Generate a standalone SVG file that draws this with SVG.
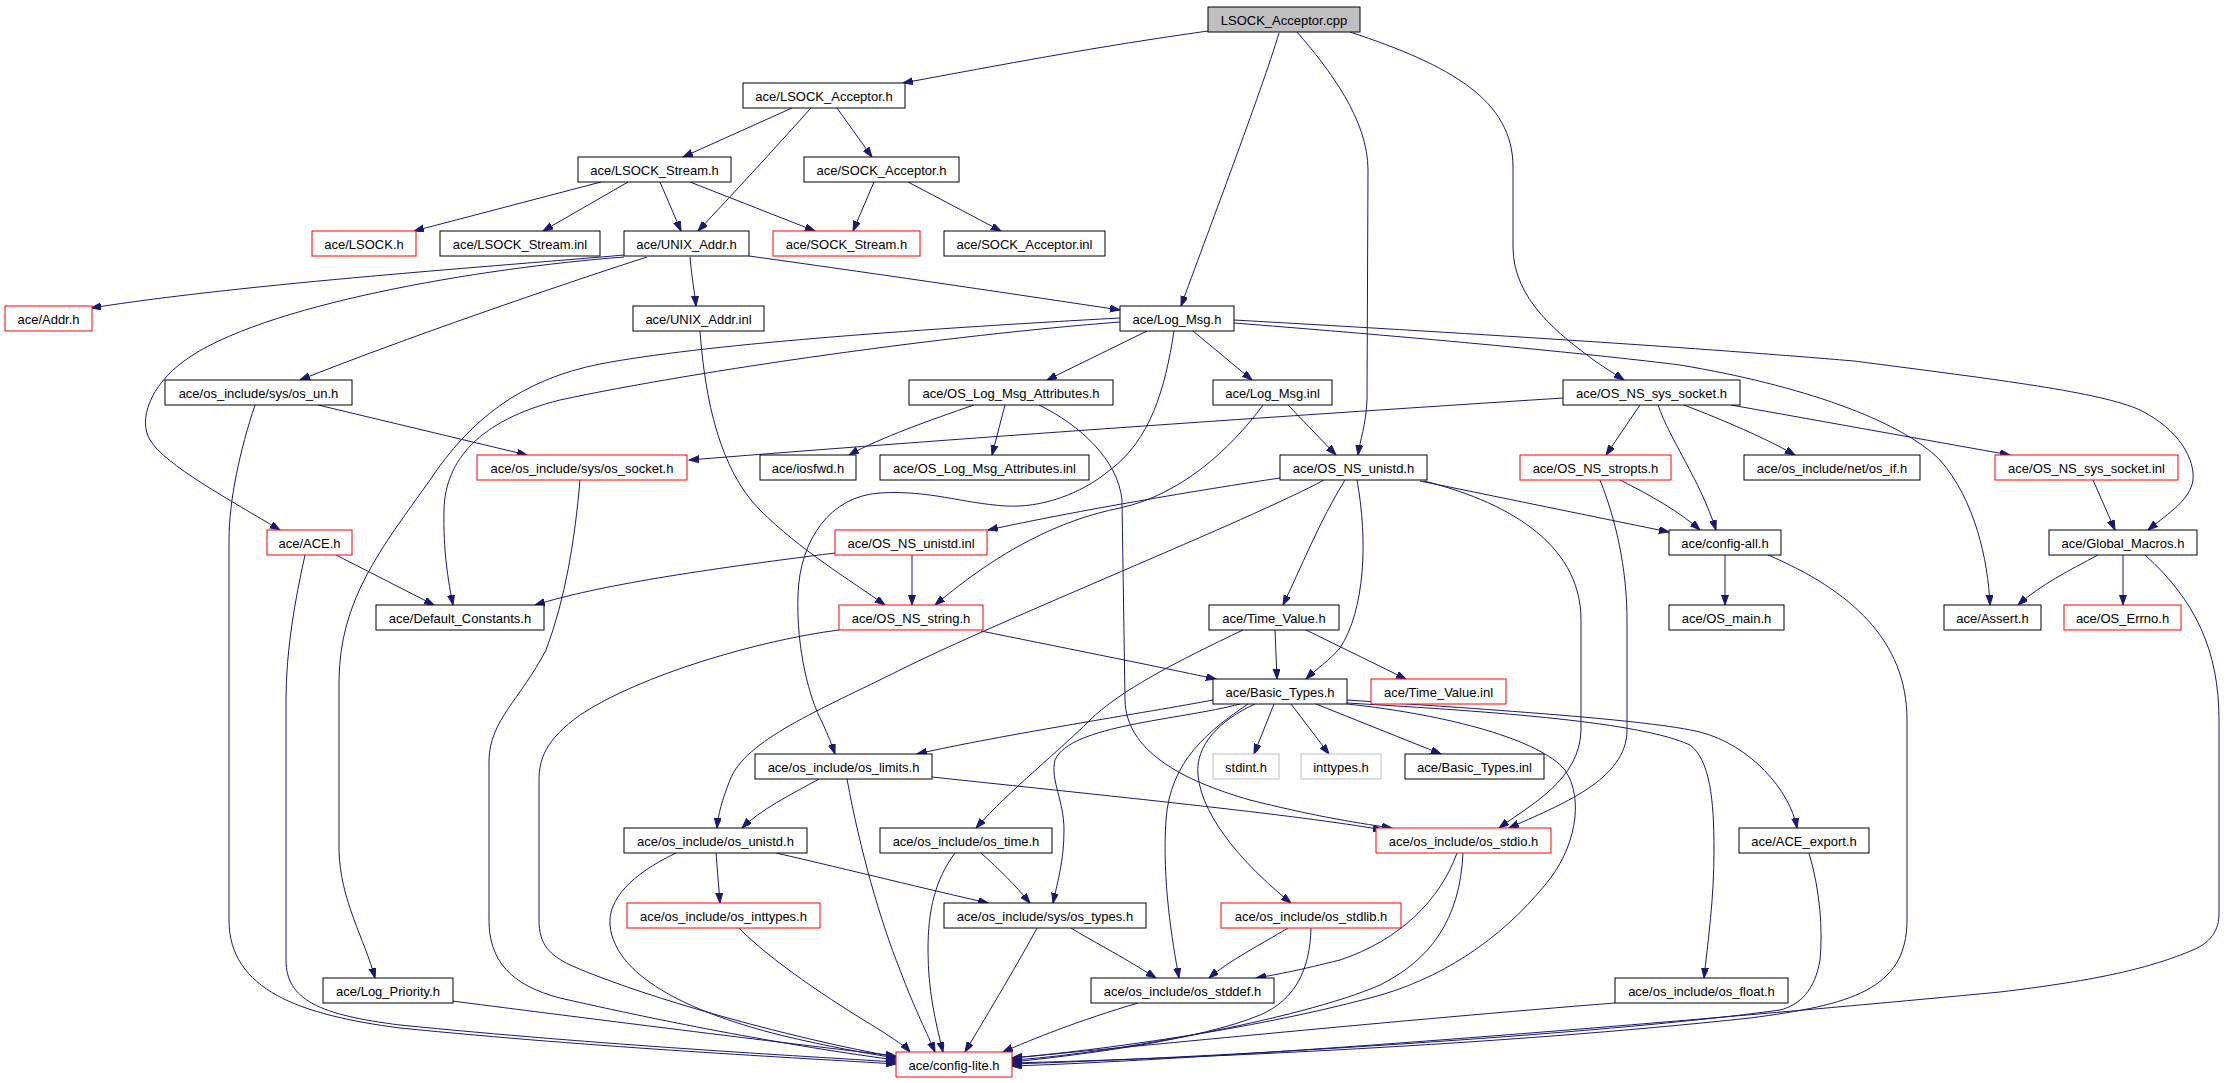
<svg xmlns="http://www.w3.org/2000/svg" width="2237" height="1083" viewBox="0 0 2237 1083">
<style>
.n rect{fill:#fff;stroke:#000;stroke-width:1}
.n.r rect{stroke:#ff0000}
.n.g rect{stroke:#bfbfbf}
.n.root rect{fill:#bfbfbf}
.n text{font-family:"Liberation Sans",Arial,sans-serif;font-size:13px;text-anchor:middle;fill:#000}
#edges path{fill:none;stroke:#191970;stroke-width:1;marker-end:url(#a)}
</style>
<defs>
<marker id="a" markerWidth="11" markerHeight="8" refX="10" refY="3.5" orient="auto" markerUnits="userSpaceOnUse"><path d="M0,0 L10,3.5 L0,7 z" fill="#191970" stroke="#191970" stroke-width="1"/></marker>
</defs>
<rect width="2237" height="1083" fill="#fff"/>
<g id="edges">
<path d="M1208,31 C1100,46 1000,65 903,83"/>
<path d="M1279,33 C1262,90 1205,240 1181,306"/>
<path d="M1297,32 C1330,70 1368,120 1368,170 L1367,400 C1366,425 1360,440 1358,455"/>
<path d="M1350,32 C1450,65 1513,100 1513,167 L1513,247 C1513,300 1560,335 1595,361 C1605,368 1615,374 1624,380"/>
<path d="M792,108 L683,157"/>
<path d="M811,108 Q760,165 698,231"/>
<path d="M837,108 L872,157"/>
<path d="M601,182 L414,231"/>
<path d="M628,182 L543,231"/>
<path d="M660,182 L681,231"/>
<path d="M690,182 L815,231"/>
<path d="M874,182 L853,231"/>
<path d="M908,182 L1001,231"/>
<path d="M624,255 C500,266 250,283 91,308"/>
<path d="M624,257 C480,268 260,305 184,361 C150,386 138,420 150,440 C165,465 230,500 280,530"/>
<path d="M647,257 C560,285 400,340 300,380"/>
<path d="M690,257 C692,280 695,295 696,306"/>
<path d="M749,256 C900,277 1020,295 1120,310"/>
<path d="M700,331 C705,400 720,470 760,510 C800,550 850,580 885,605"/>
<path d="M1147,331 L1047,380"/>
<path d="M1193,331 L1252,380"/>
<path d="M1174,331 C1165,390 1150,440 1110,470 C1080,495 1040,508 1006,506 C960,503 930,490 880,493 C830,496 800,540 798,594 C796,650 810,700 822,722 C828,735 832,745 835,754"/>
<path d="M1120,322 C950,335 700,370 560,400 C480,420 445,460 444,510 C443,550 448,580 453,605"/>
<path d="M1120,318 C900,330 700,345 600,364 C520,380 470,420 430,480 C380,550 340,600 339,680 L339,850 C340,900 365,940 375,978"/>
<path d="M1234,323 C1450,340 1600,355 1680,365 C1800,385 1900,420 1940,460 C1975,500 1988,560 1990,605"/>
<path d="M1234,320 C1500,335 1700,348 1854,361 C2000,380 2100,392 2140,410 C2180,430 2195,460 2193,480 C2190,500 2170,512 2148,530"/>
<path d="M974,405 C930,420 880,438 849,455"/>
<path d="M1005,405 L992,455"/>
<path d="M1039,405 C1080,425 1118,460 1122,500 L1125,700 C1126,750 1180,780 1250,800 C1310,815 1350,822 1392,828"/>
<path d="M1288,405 L1336,455"/>
<path d="M1263,405 C1230,450 1180,495 1120,508 C1060,520 1000,550 935,605"/>
<path d="M1563,398 C1300,415 1000,435 689,460"/>
<path d="M1640,405 L1606,455"/>
<path d="M1684,405 C1710,415 1760,435 1795,455"/>
<path d="M1731,405 L2010,455"/>
<path d="M1658,405 C1670,440 1700,480 1716,530"/>
<path d="M318,405 L527,455"/>
<path d="M255,405 C240,450 229,500 229,540 L229,920 C229,990 300,1015 400,1028 C600,1048 800,1058 896,1064"/>
<path d="M580,480 C575,540 565,600 546,650 C520,700 490,720 489,760 L489,920 C489,960 510,985 560,998 C700,1030 820,1050 896,1060"/>
<path d="M336,555 L434,605"/>
<path d="M305,555 C295,600 286,650 286,700 L286,960 C286,1000 320,1015 400,1025 C600,1045 800,1056 896,1062"/>
<path d="M1280,478 C1200,490 1080,510 988,530"/>
<path d="M1420,481 L1669,532"/>
<path d="M1345,480 C1320,520 1300,570 1283,605"/>
<path d="M1357,480 C1368,540 1365,610 1340,648 C1330,660 1315,670 1306,679"/>
<path d="M1424,481 C1500,500 1581,540 1581,620 L1581,730 C1580,780 1530,805 1499,828"/>
<path d="M1324,480 C1250,520 1000,620 900,670 C820,710 745,740 730,780 C722,800 718,815 717,828"/>
<path d="M1620,480 C1650,495 1680,512 1700,530"/>
<path d="M1600,480 C1620,530 1627,580 1627,620 L1627,730 C1627,780 1560,805 1509,828"/>
<path d="M2093,480 L2115,530"/>
<path d="M1725,555 L1725,605"/>
<path d="M1768,555 C1850,590 1907,640 1907,720 L1907,920 C1907,990 1850,1005 1750,1018 C1500,1045 1200,1058 1012,1063"/>
<path d="M2098,555 C2070,570 2040,585 2018,605"/>
<path d="M2123,555 L2123,605"/>
<path d="M2145,555 C2195,600 2219,650 2219,720 L2219,914 C2219,935 2205,945 2193,950 C2150,968 2100,980 2000,992 C1600,1030 1200,1060 1012,1066"/>
<path d="M912,555 L912,605"/>
<path d="M835,553 C700,570 600,585 535,605"/>
<path d="M981,631 C1050,645 1150,665 1216,679"/>
<path d="M839,630 C760,640 640,675 580,715 C545,740 539,760 539,780 L539,920 C539,945 550,955 570,965 C650,1000 800,1040 896,1057"/>
<path d="M1275,630 L1277,679"/>
<path d="M1306,630 L1406,679"/>
<path d="M1243,630 C1180,660 1120,690 1089,721 C1060,750 1010,790 976,828"/>
<path d="M1213,700 C1150,712 1000,735 917,754"/>
<path d="M1274,704 L1254,754"/>
<path d="M1291,704 L1329,754"/>
<path d="M1316,704 L1441,754"/>
<path d="M1240,704 C1180,720 1070,725 1055,760 C1050,780 1064,800 1064,830 C1064,860 1058,880 1053,903"/>
<path d="M1248,704 C1210,730 1170,760 1166,820 C1162,880 1172,940 1179,978"/>
<path d="M1255,704 C1220,720 1195,745 1198,775 C1202,820 1250,870 1291,903"/>
<path d="M1347,700 C1500,710 1650,720 1700,732 C1750,745 1790,790 1797,828"/>
<path d="M1347,703 C1500,712 1640,722 1690,745 C1710,760 1714,800 1714,850 C1714,900 1708,940 1704,978"/>
<path d="M1347,704 C1450,715 1540,740 1565,770 C1585,800 1575,850 1545,885 C1500,940 1440,980 1370,998 C1250,1030 1100,1050 1012,1058"/>
<path d="M819,779 C790,795 760,810 742,828"/>
<path d="M847,779 C860,850 880,920 900,970 C915,1010 928,1035 935,1052"/>
<path d="M932,777 C1100,795 1300,815 1383,830"/>
<path d="M716,853 L720,903"/>
<path d="M776,853 C850,870 930,890 988,903"/>
<path d="M676,853 C630,875 608,900 610,925 C615,980 700,1015 780,1035 C830,1047 870,1054 896,1058"/>
<path d="M981,853 C1000,870 1015,885 1030,903"/>
<path d="M955,853 C935,880 928,910 928,950 C928,990 935,1020 943,1052"/>
<path d="M739,928 C770,960 830,1000 880,1030 C895,1040 905,1046 910,1052"/>
<path d="M1037,928 C1020,960 990,1010 965,1052"/>
<path d="M1071,928 C1090,940 1120,955 1156,978"/>
<path d="M1288,928 C1260,945 1230,960 1209,978"/>
<path d="M1311,928 C1310,970 1295,1000 1260,1015 C1200,1040 1080,1055 1012,1062"/>
<path d="M1457,853 C1440,900 1400,940 1340,960 C1300,970 1280,974 1256,978"/>
<path d="M1463,853 C1460,920 1430,960 1380,985 C1300,1020 1100,1055 1012,1060"/>
<path d="M1138,1003 C1080,1020 1030,1040 1003,1052"/>
<path d="M1615,1003 C1400,1020 1150,1045 1012,1058"/>
<path d="M1809,853 C1820,890 1823,930 1820,960 C1815,990 1800,1005 1780,1010 C1600,1035 1200,1058 1012,1064"/>
<path d="M452,1001 C600,1020 800,1045 896,1056"/>
</g>
<g id="n_cpp" class="n root"><rect x="1208" y="7" width="152" height="25"/><text x="1284" y="24.5">LSOCK_Acceptor.cpp</text></g>
<g id="n_LAh" class="n"><rect x="743" y="83" width="162" height="25"/><text x="824" y="100.5">ace/LSOCK_Acceptor.h</text></g>
<g id="n_LSh" class="n"><rect x="578" y="157" width="153" height="25"/><text x="654.5" y="174.5">ace/LSOCK_Stream.h</text></g>
<g id="n_SAh" class="n"><rect x="804" y="157" width="155" height="25"/><text x="881.5" y="174.5">ace/SOCK_Acceptor.h</text></g>
<g id="n_LSOCK" class="n r"><rect x="312" y="231" width="104" height="25"/><text x="364" y="248.5">ace/LSOCK.h</text></g>
<g id="n_LSinl" class="n"><rect x="440" y="231" width="160" height="25"/><text x="520" y="248.5">ace/LSOCK_Stream.inl</text></g>
<g id="n_UAh" class="n"><rect x="624" y="231" width="125" height="25"/><text x="686.5" y="248.5">ace/UNIX_Addr.h</text></g>
<g id="n_SSh" class="n r"><rect x="773" y="231" width="147" height="25"/><text x="846.5" y="248.5">ace/SOCK_Stream.h</text></g>
<g id="n_SAinl" class="n"><rect x="944" y="231" width="161" height="25"/><text x="1024.5" y="248.5">ace/SOCK_Acceptor.inl</text></g>
<g id="n_Addr" class="n r"><rect x="5" y="306" width="87" height="25"/><text x="48.5" y="323.5">ace/Addr.h</text></g>
<g id="n_UAinl" class="n"><rect x="633" y="306" width="131" height="25"/><text x="698.5" y="323.5">ace/UNIX_Addr.inl</text></g>
<g id="n_LMh" class="n"><rect x="1120" y="306" width="114" height="25"/><text x="1177" y="323.5">ace/Log_Msg.h</text></g>
<g id="n_osun" class="n"><rect x="165" y="380" width="187" height="25"/><text x="258.5" y="397.5">ace/os_include/sys/os_un.h</text></g>
<g id="n_OLMAh" class="n"><rect x="909" y="380" width="204" height="25"/><text x="1011" y="397.5">ace/OS_Log_Msg_Attributes.h</text></g>
<g id="n_LMinl" class="n"><rect x="1213" y="380" width="119" height="25"/><text x="1272.5" y="397.5">ace/Log_Msg.inl</text></g>
<g id="n_NSSh" class="n"><rect x="1563" y="380" width="177" height="25"/><text x="1651.5" y="397.5">ace/OS_NS_sys_socket.h</text></g>
<g id="n_ossock" class="n r"><rect x="477" y="455" width="210" height="25"/><text x="582" y="472.5">ace/os_include/sys/os_socket.h</text></g>
<g id="n_iosfwd" class="n"><rect x="760" y="455" width="96" height="25"/><text x="808" y="472.5">ace/iosfwd.h</text></g>
<g id="n_OLMAinl" class="n"><rect x="880" y="455" width="209" height="25"/><text x="984.5" y="472.5">ace/OS_Log_Msg_Attributes.inl</text></g>
<g id="n_NSUh" class="n"><rect x="1280" y="455" width="147" height="25"/><text x="1353.5" y="472.5">ace/OS_NS_unistd.h</text></g>
<g id="n_stropts" class="n r"><rect x="1520" y="455" width="151" height="25"/><text x="1595.5" y="472.5">ace/OS_NS_stropts.h</text></g>
<g id="n_osif" class="n"><rect x="1744" y="455" width="176" height="25"/><text x="1832" y="472.5">ace/os_include/net/os_if.h</text></g>
<g id="n_NSSinl" class="n r"><rect x="1995" y="455" width="183" height="25"/><text x="2086.5" y="472.5">ace/OS_NS_sys_socket.inl</text></g>
<g id="n_ACE" class="n r"><rect x="267" y="530" width="85" height="25"/><text x="309.5" y="547.5">ace/ACE.h</text></g>
<g id="n_NSUinl" class="n r"><rect x="835" y="530" width="152" height="25"/><text x="911" y="547.5">ace/OS_NS_unistd.inl</text></g>
<g id="n_cfgall" class="n"><rect x="1669" y="530" width="112" height="25"/><text x="1725" y="547.5">ace/config-all.h</text></g>
<g id="n_GM" class="n"><rect x="2049" y="530" width="148" height="25"/><text x="2123" y="547.5">ace/Global_Macros.h</text></g>
<g id="n_DefC" class="n"><rect x="376" y="605" width="168" height="25"/><text x="460" y="622.5">ace/Default_Constants.h</text></g>
<g id="n_NSstr" class="n r"><rect x="839" y="605" width="144" height="25"/><text x="911" y="622.5">ace/OS_NS_string.h</text></g>
<g id="n_TVh" class="n"><rect x="1209" y="605" width="130" height="25"/><text x="1274" y="622.5">ace/Time_Value.h</text></g>
<g id="n_OSmain" class="n"><rect x="1669" y="605" width="115" height="25"/><text x="1726.5" y="622.5">ace/OS_main.h</text></g>
<g id="n_Assert" class="n"><rect x="1944" y="605" width="97" height="25"/><text x="1992.5" y="622.5">ace/Assert.h</text></g>
<g id="n_Errno" class="n r"><rect x="2064" y="605" width="117" height="25"/><text x="2122.5" y="622.5">ace/OS_Errno.h</text></g>
<g id="n_BTh" class="n"><rect x="1213" y="679" width="134" height="25"/><text x="1280" y="696.5">ace/Basic_Types.h</text></g>
<g id="n_TVinl" class="n r"><rect x="1371" y="679" width="135" height="25"/><text x="1438.5" y="696.5">ace/Time_Value.inl</text></g>
<g id="n_limits" class="n"><rect x="755" y="754" width="177" height="25"/><text x="843.5" y="771.5">ace/os_include/os_limits.h</text></g>
<g id="n_stdint" class="n g"><rect x="1213" y="754" width="66" height="25"/><text x="1246" y="771.5">stdint.h</text></g>
<g id="n_inttypes" class="n g"><rect x="1301" y="754" width="80" height="25"/><text x="1341" y="771.5">inttypes.h</text></g>
<g id="n_BTinl" class="n"><rect x="1405" y="754" width="139" height="25"/><text x="1474.5" y="771.5">ace/Basic_Types.inl</text></g>
<g id="n_osunistd" class="n"><rect x="624" y="828" width="183" height="25"/><text x="715.5" y="845.5">ace/os_include/os_unistd.h</text></g>
<g id="n_ostime" class="n"><rect x="880" y="828" width="172" height="25"/><text x="966" y="845.5">ace/os_include/os_time.h</text></g>
<g id="n_stdio" class="n r"><rect x="1376" y="828" width="175" height="25"/><text x="1463.5" y="845.5">ace/os_include/os_stdio.h</text></g>
<g id="n_ACEexp" class="n"><rect x="1739" y="828" width="130" height="25"/><text x="1804" y="845.5">ace/ACE_export.h</text></g>
<g id="n_osint" class="n r"><rect x="627" y="903" width="193" height="25"/><text x="723.5" y="920.5">ace/os_include/os_inttypes.h</text></g>
<g id="n_systypes" class="n"><rect x="944" y="903" width="202" height="25"/><text x="1045" y="920.5">ace/os_include/sys/os_types.h</text></g>
<g id="n_stdlib" class="n r"><rect x="1221" y="903" width="180" height="25"/><text x="1311" y="920.5">ace/os_include/os_stdlib.h</text></g>
<g id="n_LogPri" class="n"><rect x="323" y="978" width="130" height="25"/><text x="388" y="995.5">ace/Log_Priority.h</text></g>
<g id="n_stddef" class="n"><rect x="1091" y="978" width="183" height="25"/><text x="1182.5" y="995.5">ace/os_include/os_stddef.h</text></g>
<g id="n_float" class="n"><rect x="1615" y="978" width="173" height="25"/><text x="1701.5" y="995.5">ace/os_include/os_float.h</text></g>
<g id="n_cfglite" class="n r"><rect x="896" y="1052" width="116" height="25"/><text x="954" y="1069.5">ace/config-lite.h</text></g>
</svg>
